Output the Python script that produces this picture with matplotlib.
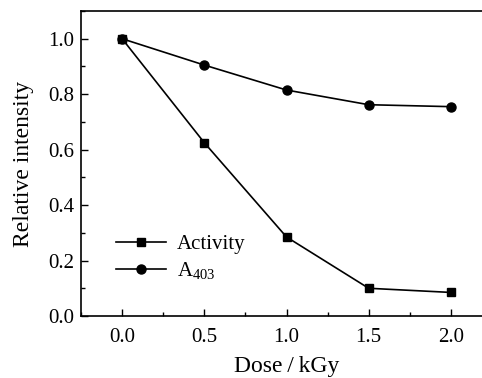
import matplotlib
matplotlib.use("Agg")
import matplotlib.pyplot as plt
from matplotlib.ticker import MultipleLocator

dose = [0.0, 0.5, 1.0, 1.5, 2.0]
activity = [1.0, 0.625, 0.285, 0.100, 0.085]
a403 = [1.0, 0.905, 0.815, 0.762, 0.755]

plt.rcParams['font.family'] = ['Liberation Serif', 'DejaVu Serif']
plt.rcParams['mathtext.fontset'] = 'custom'
plt.rcParams['mathtext.rm'] = 'Liberation Serif'

fig = plt.figure(figsize=(4.82, 3.78), dpi=100)
ax = fig.add_axes([81/482, 1-316/378, (492-81)/482, (316-11)/378])

ax.plot(dose, activity, '-s', color='black', lw=1.2, ms=6, label='Activity')
ax.plot(dose, a403, '-o', color='black', lw=1.2, ms=6.5, label=r'A$_{403}$')

ax.set_xlim(-0.25, 2.25)
ax.set_ylim(0, 1.1)
ax.xaxis.set_major_locator(MultipleLocator(0.5))
ax.xaxis.set_minor_locator(MultipleLocator(0.25))
ax.yaxis.set_major_locator(MultipleLocator(0.2))
ax.yaxis.set_minor_locator(MultipleLocator(0.1))
ax.set_xticks(dose)
ax.set_xticklabels(['0.0', '0.5', '1.0', '1.5', '2.0'])
ax.tick_params(which='both', direction='in', labelsize=15, width=1, top=False, right=False)
ax.tick_params(which='major', length=5)
ax.tick_params(which='minor', length=3)
ax.tick_params(axis='x', pad=9)
ax.tick_params(axis='y', pad=5)
for s in ax.spines.values():
    s.set_linewidth(1.2)

ax.set_xlabel('Dose\u2009/\u2009kGy', fontsize=17, labelpad=6)
ax.set_ylabel('Relative intensity', fontsize=17, labelpad=10)

ax.legend(loc='lower left', bbox_to_anchor=(0.04, 0.05), frameon=False, fontsize=15,
          handlelength=2.4, labelspacing=0.3, handletextpad=0.5)

fig.savefig('out.png', dpi=100)
